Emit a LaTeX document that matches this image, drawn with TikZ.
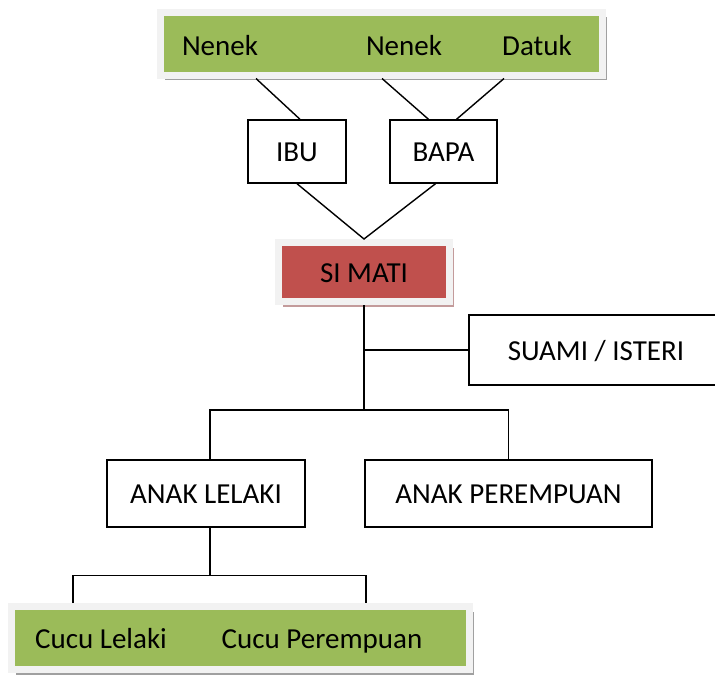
\documentclass[tikz,border=0pt]{standalone}
\usepackage{fontspec}
\setmainfont{Carlito}
\usetikzlibrary{shadows}
\definecolor{panelgreen}{HTML}{9BBB59}
\definecolor{panelred}{HTML}{C0504D}
\definecolor{framegray}{HTML}{F2F2F2}
\definecolor{greenshade}{HTML}{A0A0A0}
\definecolor{redshade}{HTML}{C39B9B}

\begin{document}
\begin{tikzpicture}[x=1pt,y=-1pt,font=\fontsize{29}{33}\selectfont,
  every node/.style={text height=20pt,text depth=0pt},
  box/.style={draw,line width=1.4pt,inner sep=0pt},
  greenpanel/.style={fill=panelgreen,draw=framegray,line width=7pt,inner sep=0pt,
    drop shadow={shadow xshift=4pt,shadow yshift=-5pt,fill=greenshade,opacity=1}},
  redpanel/.style={fill=panelred,draw=framegray,line width=7pt,inner sep=0pt,
    drop shadow={shadow xshift=4pt,shadow yshift=-5pt,fill=redshade,opacity=1}},
  link/.style={line width=1.4pt}]
\useasboundingbox (0,0) rectangle (715,678);

\node[greenpanel,minimum width=442pt,minimum height=63pt] (elders) at (381.5,43.5) {};
\node (nenek1) at (220,45) {Nenek};
\node (nenek2) at (404,45) {Nenek};
\node (datuk) at (537,45) {Datuk};

\node[box,minimum width=98pt,minimum height=63pt] (ibu) at (297,151.5) {IBU};
\node[box,minimum width=107pt,minimum height=63pt] (bapa) at (443.5,151.5) {BAPA};
\node[redpanel,minimum width=171pt,minimum height=59pt] (simati) at (364,272) {SI MATI};
\node[box,minimum width=254pt,minimum height=70pt] (suami) at (596,350) {SUAMI / ISTERI};
\node[box,minimum width=198pt,minimum height=67pt] (lelaki) at (206,493.5) {ANAK LELAKI};
\node[box,minimum width=287pt,minimum height=67pt] (perempuan) at (508.5,493.5) {ANAK PEREMPUAN};

\node[greenpanel,minimum width=458pt,minimum height=63pt] (cucu) at (240.5,638) {};
\node (cuculelaki) at (101,638) {Cucu Lelaki};
\node (cucuperempuan) at (322,638) {Cucu Perempuan};

\draw[link] ([xshift=99pt]elders.south west) -- ([xshift=3pt]ibu.north);
\draw[link] ([xshift=225pt]elders.south west) -- ([xshift=-15pt]bapa.north);
\draw[link] ([xshift=347pt]elders.south west) -- ([xshift=13pt]bapa.north);
\draw[link] (ibu.south) -- (simati.north) -- ([xshift=-8pt]bapa.south);
\draw[link] (simati.south) -- ++(0,105) coordinate (split);
\draw[link] (simati.south |- suami.west) -- (suami.west);
\draw[link] ([xshift=4pt]lelaki.north) -- ([xshift=4pt]lelaki.north |- split) -- (perempuan.north |- split) -- (perempuan.north);
\draw[link] ([xshift=4pt]lelaki.south) -- ++(0,48) coordinate (fork);
\draw[link] ([xshift=65pt]cucu.north west) |- (fork) -| ([xshift=358pt]cucu.north west);
\end{tikzpicture}
\end{document}
